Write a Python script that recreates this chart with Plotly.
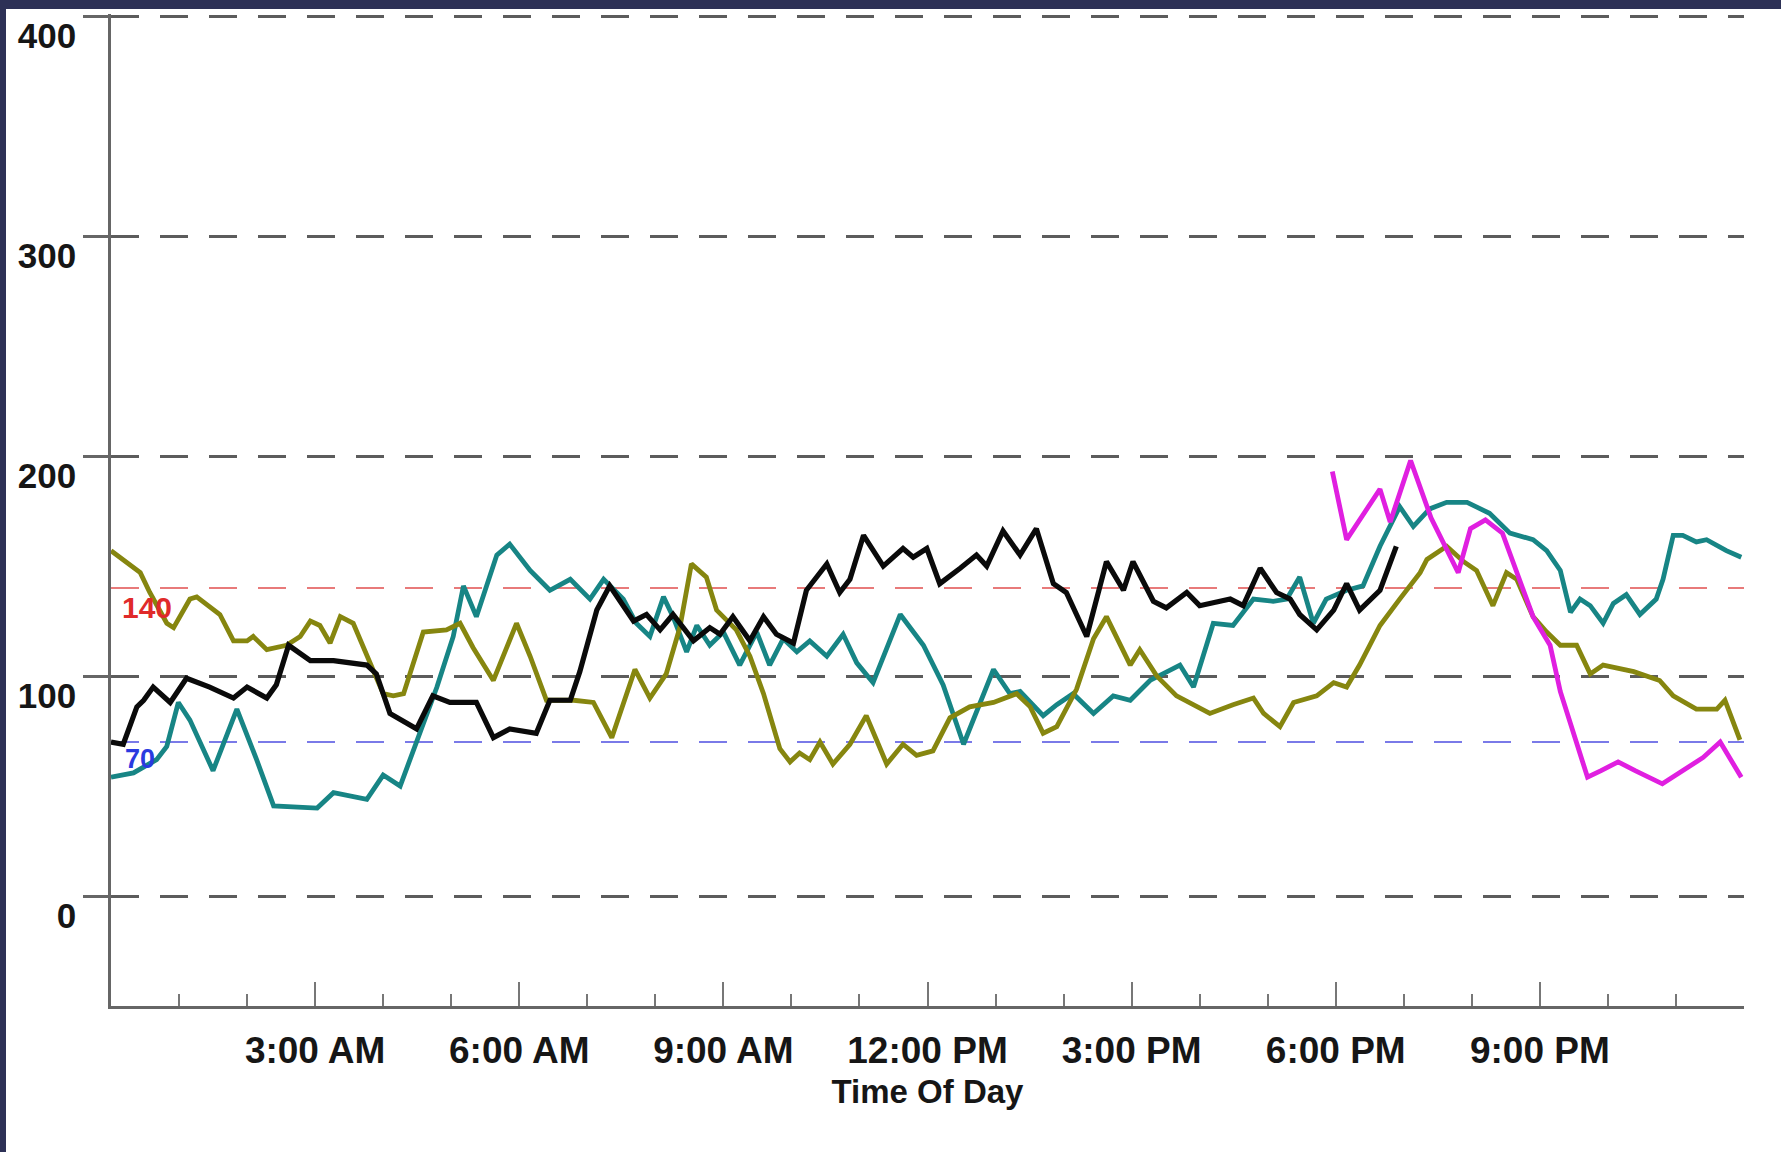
import plotly.graph_objects as go

# hours after midnight, glucose-like readings
olive_hours = [0.0, 0.43, 0.57, 0.82, 0.92, 1.16, 1.26, 1.6, 1.8, 2.0, 2.09, 2.29, 2.58, 2.78, 2.93, 3.07,
               3.22, 3.37, 3.56, 3.71, 4.0, 4.15, 4.3, 4.59, 4.93, 5.13, 5.32, 5.62, 5.96, 6.16, 6.4, 6.8,
               7.09, 7.36, 7.7, 7.92, 8.16, 8.36, 8.53, 8.75, 8.9, 9.19, 9.39, 9.59, 9.83, 9.98, 10.12,
               10.27, 10.42, 10.61, 10.86, 11.1, 11.4, 11.64, 11.84, 12.08, 12.33, 12.62, 12.97, 13.31,
               13.51, 13.7, 13.9, 14.19, 14.44, 14.63, 14.98, 15.12, 15.37, 15.66, 16.15, 16.49, 16.79,
               16.94, 17.18, 17.38, 17.72, 17.97, 18.16, 18.35, 18.65, 18.94, 19.24, 19.34, 19.63, 19.88,
               20.07, 20.31, 20.51, 20.66, 20.9, 21.1, 21.3, 21.54, 21.74, 21.93, 22.38, 22.76, 22.96,
               23.3, 23.6, 23.72, 23.94]
olive_vals = [157, 147, 138, 124, 122, 135, 136, 128, 116, 116, 118, 112, 114, 118, 125, 123,
              115, 127, 124, 113, 92, 91, 92, 120, 121, 124, 113, 98, 124, 109, 89, 89,
              88, 72, 103, 90, 101, 122, 151, 145, 130, 121, 109, 92, 67, 61, 65,
              62, 70, 60, 69, 82, 60, 69, 64, 66, 81, 86, 88, 92,
              86, 74, 77, 94, 117, 127, 105, 112, 100, 91, 83, 87, 90,
              83, 77, 88, 91, 97, 95, 105, 123, 135, 147, 153, 159, 152,
              148, 132, 147, 144, 127, 120, 114, 114, 101, 105, 102, 98, 91,
              85, 85, 89, 71]

teal_hours = [0.0, 0.33, 0.67, 0.82, 0.99, 1.16, 1.5, 1.85, 2.14, 2.39, 3.03, 3.27, 3.76, 4.0, 4.25, 4.54,
              4.79, 5.03, 5.18, 5.37, 5.67, 5.86, 6.16, 6.45, 6.75, 7.04, 7.24, 7.53, 7.72, 7.92, 8.12,
              8.26, 8.46, 8.61, 8.8, 9.0, 9.24, 9.49, 9.68, 9.88, 10.08, 10.27, 10.52, 10.76, 10.96,
              11.2, 11.6, 11.94, 12.23, 12.53, 12.97, 13.21, 13.36, 13.7, 13.9, 14.14, 14.44, 14.73,
              14.98, 15.27, 15.71, 15.91, 16.2, 16.49, 16.79, 17.08, 17.28, 17.47, 17.67, 17.86, 18.16,
              18.4, 18.65, 18.94, 19.14, 19.38, 19.63, 19.93, 20.26, 20.56, 20.9, 21.1, 21.3, 21.45,
              21.59, 21.74, 21.93, 22.08, 22.27, 22.47, 22.71, 22.81, 22.96, 23.1, 23.3, 23.45, 23.74,
              23.96]
teal_vals = [54, 56, 62, 68, 88, 80, 57, 85, 62, 41, 40, 47, 44, 55, 50, 74,
             95, 118, 141, 127, 155, 160, 148, 139, 144, 135, 144, 135, 124, 118, 136,
             127, 111, 123, 114, 120, 105, 120, 105, 117, 111, 116, 109, 119, 106,
             97, 128, 114, 96, 69, 103, 92, 93, 82, 87, 92, 83, 91,
             89, 98, 105, 95, 124, 123, 135, 134, 135, 145, 124, 135, 139,
             141, 159, 177, 168, 176, 179, 179, 174, 165, 162, 157, 148, 129,
             135, 132, 124, 133, 137, 128, 135, 144, 164, 164, 161, 162, 157,
             154]

black_hours = [0.0, 0.18, 0.38, 0.48, 0.62, 0.87, 1.11, 1.45, 1.8, 2.0, 2.29, 2.43, 2.61, 2.93, 3.27,
               3.76, 3.9, 4.1, 4.49, 4.73, 4.98, 5.37, 5.62, 5.86, 6.25, 6.45, 6.75, 6.89, 7.14, 7.33,
               7.68, 7.87, 8.07, 8.26, 8.56, 8.8, 8.95, 9.14, 9.39, 9.59, 9.78, 10.03, 10.22, 10.37,
               10.52, 10.71, 10.86, 11.06, 11.35, 11.64, 11.79, 11.99, 12.18, 12.48, 12.72, 12.87,
               13.11, 13.36, 13.6, 13.85, 14.04, 14.34, 14.63, 14.88, 15.02, 15.32, 15.51, 15.81,
               16.0, 16.45, 16.64, 16.89, 17.13, 17.33, 17.47, 17.72, 17.97, 18.16, 18.35, 18.65,
               18.89]
black_vals = [70, 69, 86, 89, 95, 88, 99, 95, 90, 95, 90, 96, 114, 107, 107,
              105, 101, 83, 76, 91, 88, 88, 72, 76, 74, 89, 89, 102, 130, 141,
              125, 128, 121, 128, 116, 122, 119, 127, 116, 127, 119, 115, 139, 145,
              151, 138, 144, 164, 150, 158, 154, 158, 142, 149, 155, 150,
              166, 155, 167, 142, 138, 118, 152, 139, 152, 134, 131, 138,
              132, 135, 132, 149, 138, 135, 128, 121, 130, 142, 130, 139,
              159]

magenta_hours = [17.95, 18.16, 18.65, 18.8, 19.1, 19.4, 19.8, 19.98, 20.2, 20.45, 20.9, 21.15, 21.3,
                 21.7, 21.9, 22.15, 22.4, 22.8, 23.4, 23.65, 23.96]
magenta_vals = [193, 162, 185, 170, 198, 172, 147, 167, 171, 165, 127, 114, 93,
                54, 57, 61, 57, 51, 63, 70, 54]

high_limit = 140
low_limit = 70

x_tickvals = [3, 6, 9, 12, 15, 18, 21]
x_ticktext = ["3:00 AM", "6:00 AM", "9:00 AM", "12:00 PM", "3:00 PM", "6:00 PM", "9:00 PM"]
y_tickvals = [0, 100, 200, 300, 400]

W, H = 1781, 1152
L, R, T, B = 111, 37, 14, 146
pw, ph = W - L - R, H - T - B

FONT = "Liberation Sans, Arial, sans-serif"
DASH = "28px,21px"

fig = go.Figure()

# white slide area, navy strip on the left/top edges (added first so it sits at the bottom)
fig.add_shape(type="rect", xref="paper", yref="paper",
              x0=(6 - L) / pw, x1=(W - L + 5) / pw,
              y0=-(B + 5) / ph, y1=(ph + T - 9) / ph,
              fillcolor="white", line=dict(width=0), layer="below")

series = [
    (teal_hours, teal_vals, "#178585", 4.8),
    (olive_hours, olive_vals, "#86860f", 4.8),
    (black_hours, black_vals, "#0a0a0a", 5.2),
    (magenta_hours, magenta_vals, "#e01fe0", 4.8),
]
for hrs, vals, col, w in series:
    fig.add_trace(go.Scatter(x=hrs, y=vals, mode="lines",
                             line=dict(color=col, width=w), showlegend=False,
                             hoverinfo="skip"))

# target range lines
fig.add_hline(y=high_limit, line=dict(color="#e87a7a", width=2, dash=DASH), layer="below")
fig.add_hline(y=low_limit, line=dict(color="#7a7ae8", width=2, dash=DASH), layer="below")
fig.add_annotation(x=0.53, y=high_limit, text=str(high_limit), showarrow=False, yshift=-19,
                   font=dict(family=FONT, size=30, color="#e02a2a", weight="bold"))
fig.add_annotation(x=0.43, y=low_limit, text=str(low_limit), showarrow=False, yshift=-17,
                   font=dict(family=FONT, size=27, color="#2a3ae0", weight="bold"))

fig.update_layout(
    width=W, height=H,
    margin=dict(l=L, r=R, t=T, b=B, autoexpand=False),
    paper_bgcolor="#2d3156",
    plot_bgcolor="white",
    xaxis=dict(
        range=[0, 24], automargin=False,
        tickmode="array", tickvals=x_tickvals, ticktext=x_ticktext,
        ticks="inside", ticklen=24, tickwidth=2, tickcolor="#777",
        minor=dict(tickmode="array", tickvals=list(range(1, 24)),
                   ticks="inside", ticklen=12, tickwidth=2, tickcolor="#777", showgrid=False),
        showline=True, linecolor="#666", linewidth=2.5,
        showgrid=False, zeroline=False,
        ticklabelstandoff=10,
        tickfont=dict(family=FONT, size=37, color="#161616", weight="bold"),
        title=dict(text="Time Of Day", standoff=10,
                   font=dict(family=FONT, size=33, color="#161616", weight="bold")),
    ),
    yaxis=dict(
        range=[-50, 401], automargin=False,
        tickmode="array", tickvals=y_tickvals,
        ticks="outside", ticklen=25, tickwidth=2.5, tickcolor="#666",
        showline=True, linecolor="#666", linewidth=2.5,
        showgrid=True, gridcolor="#5c5c5c", gridwidth=2.5, griddash=DASH,
        zeroline=False,
        ticklabelshift=20,
        tickfont=dict(family=FONT, size=35, color="#161616", weight="bold"),
    ),
)

# figure fills the page from its top-left corner
fig.write_html("out.html", config={"displayModeBar": False},
               post_script="document.body.style.margin = '0';")
